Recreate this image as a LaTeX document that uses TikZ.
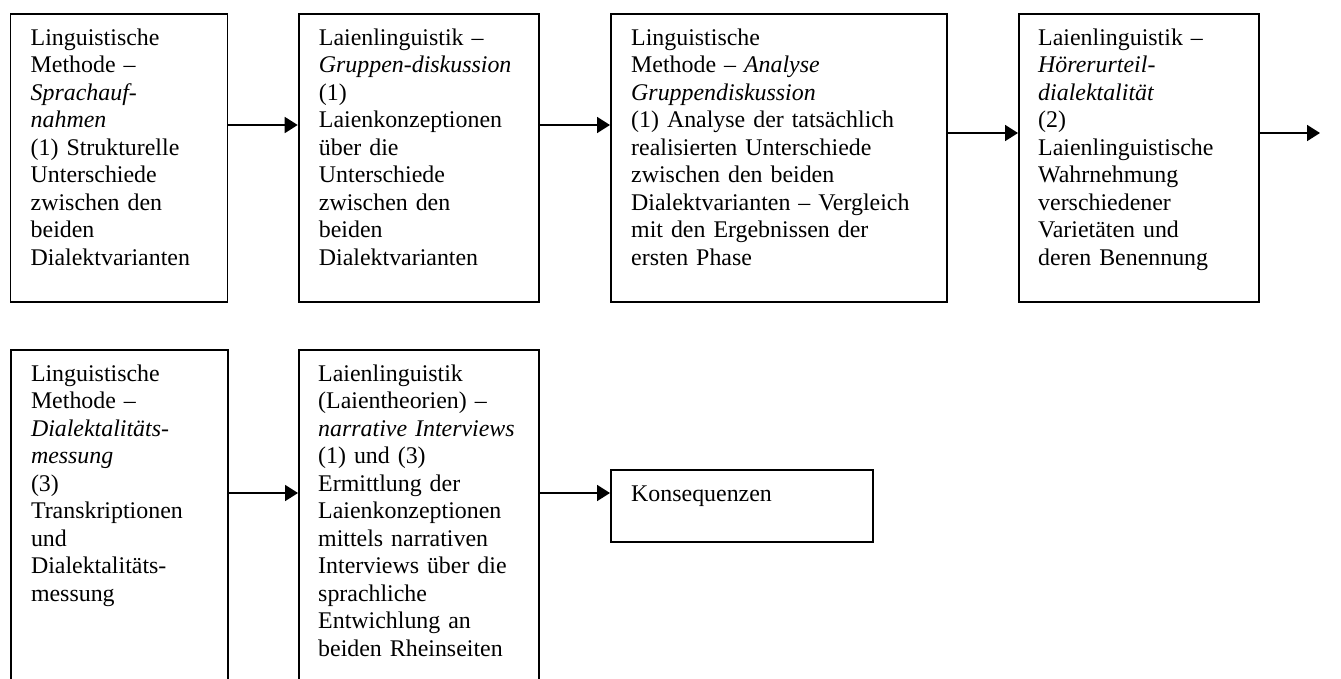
\documentclass[tikz,border=0pt]{standalone}
\usepackage{fontspec}
\setmainfont{Liberation Serif}
\usetikzlibrary{arrows.meta}
\begin{document}
\begin{tikzpicture}[x=1pt,y=-1pt,
  box/.style={draw, line width=1.8pt, inner sep=0pt, anchor=north west, minimum height=288pt},
  txt/.style={anchor=north west, inner sep=0pt, align=left,
    font=\fontsize{23.9}{27.5}\selectfont},
  flow/.style={line width=1.8pt, -{Triangle[length=13pt,width=16pt]}}]
\useasboundingbox (0,0) rectangle (1341,678);
\begin{scope}
\clip (0,0) rectangle (1341,678);

% first row of stages
\node[box, minimum width=217pt] (b1) at (9.5,12.7) {};
\node[box, minimum width=240pt] (b2) at (297.7,12.7) {};
\node[box, minimum width=336pt] (b3) at (610,12.7) {};
\node[box, minimum width=240pt] (b4) at (1018,12.7) {};

\node[txt, text width=200pt] (t1) at ([xshift=21pt,yshift=-13pt]b1.north west)
  {\strut Linguistische\\Methode –\\\textit{Sprachauf-}\\\textit{nahmen}\\(1) Strukturelle\\Unterschiede\\zwischen den\\beiden\\Dialektvarianten};
\node[txt, text width=215pt] (t2) at ([xshift=21pt,yshift=-13pt]b2.north west)
  {\strut Laienlinguistik –\\\textit{Gruppen-diskussion}\\(1)\\Laienkonzeptionen\\über die\\Unterschiede\\zwischen den\\beiden\\Dialektvarianten};
\node[txt, text width=312pt] (t3) at ([xshift=21pt,yshift=-13pt]b3.north west)
  {\strut Linguistische\\Methode – \textit{Analyse}\\\textit{Gruppendiskussion}\\(1) Analyse der tatsächlich\\realisierten Unterschiede\\zwischen den beiden\\Dialektvarianten – Vergleich\\mit den Ergebnissen der\\ersten Phase};
\node[txt, text width=215pt] (t4) at ([xshift=20pt,yshift=-13pt]b4.north west)
  {\strut Laienlinguistik –\\\textit{Hörerurteil-}\\\textit{dialektalität}\\(2)\\Laienlinguistische\\Wahrnehmung\\verschiedener\\Varietäten und\\deren Benennung};

% second row of stages
\node[box, minimum width=217pt, minimum height=331pt] (b5) at (9.8,349) {};
\node[box, minimum width=240pt, minimum height=331pt] (b6) at (298,349) {};
\node[box, minimum width=262pt, minimum height=72pt] (b7) at (610,469) {};

\node[txt, text width=200pt] (t5) at ([xshift=21pt,yshift=-13pt]b5.north west)
  {\strut Linguistische\\Methode –\\\textit{Dialektalitäts-}\\\textit{messung}\\(3)\\Transkriptionen\\und\\Dialektalitäts-\\messung};
\node[txt, text width=215pt] (t6) at ([xshift=20pt,yshift=-13pt]b6.north west)
  {\strut Laienlinguistik\\(Laientheorien) –\\\textit{narrative Interviews}\\(1) und (3)\\Ermittlung der\\Laienkonzeptionen\\mittels narrativen\\Interviews über die\\sprachliche\\Entwichlung an\\beiden Rheinseiten};
\node[txt, text width=230pt] (t7) at ([xshift=21pt,yshift=-13pt]b7.north west)
  {\strut Konsequenzen};

% connectors
\coordinate (out) at (1320,133);
\draw[flow] (b1.east |- 0,125) -- (b2.west |- 0,125);
\draw[flow] (b2.east |- 0,125) -- (b3.west |- 0,125);
\draw[flow] (b3.east |- 0,133) -- (b4.west |- 0,133);
\draw[flow] (b4.east |- out) -- (out);
\draw[flow] (b5.east |- 0,493) -- (b6.west |- 0,493);
\draw[flow] (b6.east |- 0,493) -- (b7.west |- 0,493);
\end{scope}
\end{tikzpicture}
\end{document}
